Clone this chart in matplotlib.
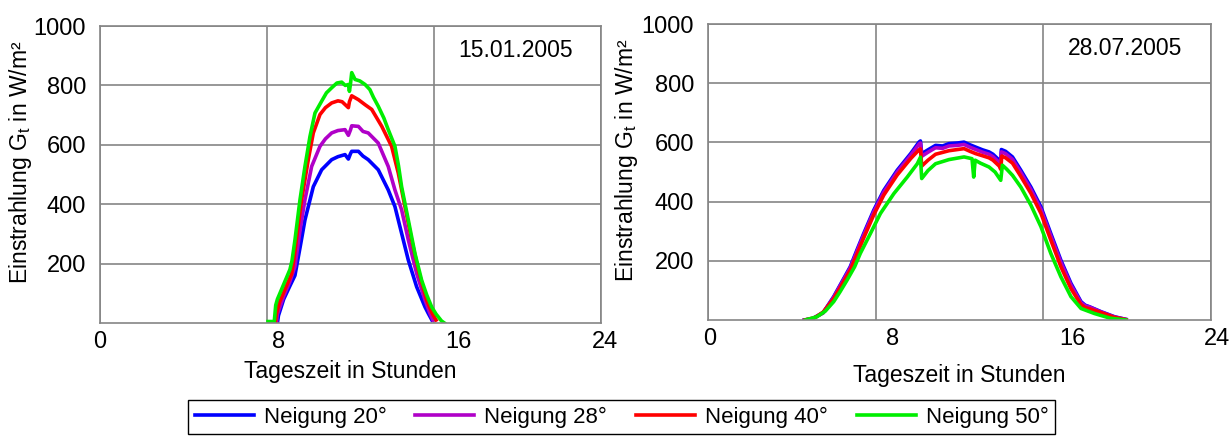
import numpy as np
import matplotlib
matplotlib.use("Agg")
import matplotlib.pyplot as plt
from matplotlib.transforms import ScaledTranslation

plt.rcParams['font.family'] = ['Liberation Sans', 'DejaVu Sans']
plt.rcParams['mathtext.default'] = 'regular'

# series names and colours
labels = ['Neigung 20°', 'Neigung 28°', 'Neigung 40°', 'Neigung 50°']
colors = ['#0000ff', '#b000c8', '#ff0000', '#00ee00']

# 15.01.2005  (hour of day, irradiance W/m2)
jan_t20 = [8.5, 8.55, 8.8, 9.1, 9.34, 9.6, 9.82, 10.22, 10.62, 11.1, 11.4, 11.74, 11.9, 12.0, 12.06,
           12.38, 12.6, 12.85, 13.33, 13.81, 14.13, 14.45, 14.77, 15.17, 15.57, 15.73, 15.9]
jan_g20 = [0, 25, 80, 125, 160, 260, 347, 459, 516, 550, 560, 567, 552, 570, 578,
           578, 562, 550, 516, 448, 392, 302, 212, 122, 54, 32, 10]

jan_t28 = [8.45, 8.5, 8.8, 9.1, 9.34, 9.6, 9.82, 10.14, 10.54, 10.8, 11.1, 11.4, 11.74, 11.9, 12.0,
           12.06, 12.38, 12.6, 12.85, 13.33, 13.81, 14.13, 14.45, 14.77, 15.17, 15.57, 15.81, 15.95]
jan_g28 = [0, 30, 90, 140, 190, 320, 415, 527, 595, 620, 640, 648, 651, 632, 650,
           664, 662, 645, 640, 606, 527, 448, 381, 280, 167, 77, 32, 10]

jan_t40 = [8.4, 8.45, 8.6, 8.9, 9.18, 9.3, 9.5, 9.66, 9.98, 10.22, 10.54, 10.8, 11.1, 11.4, 11.6,
           11.9, 11.95, 12.06, 12.38, 12.7, 13.02, 13.5, 13.97, 14.29, 14.61, 14.93, 15.25, 15.65,
           15.9, 16.1]
jan_g40 = [0, 30, 70, 120, 165, 220, 330, 415, 550, 640, 702, 725, 741, 748, 745,
           725, 745, 765, 752, 735, 719, 662, 595, 505, 392, 280, 178, 77,
           35, 10]

jan_t50 = [8.05, 8.35, 8.42, 8.5, 8.8, 9.1, 9.2, 9.34, 9.58, 9.82, 10.06, 10.3, 10.62, 10.85, 11.1,
           11.35, 11.58, 11.75, 11.9, 11.95, 12.0, 12.06, 12.22, 12.45, 12.7, 12.93, 13.1, 13.33,
           13.6, 13.81, 14.13, 14.3, 14.45, 14.77, 15.09, 15.41, 15.65, 15.89, 16.1, 16.36, 16.5]
jan_g50 = [5, 5, 60, 80, 130, 180, 210, 279, 414, 527, 628, 707, 747, 775, 792,
           808, 811, 800, 803, 780, 805, 843, 820, 815, 803, 786, 760, 730,
           690, 651, 595, 530, 459, 347, 234, 144, 95, 54, 30, 7, 0]

# 28.07.2005
jul_t20 = [4.6, 5.0, 5.5, 6.0, 6.4, 6.79, 7.1, 7.43, 7.91, 8.39, 9.03, 9.67, 10.07, 10.14, 10.2,
           10.5, 10.86, 11.2, 11.5, 11.9, 12.22, 12.5, 12.78, 13.1, 13.41, 13.6, 13.9, 13.97, 14.0,
           14.2, 14.53, 14.93, 15.41, 15.89, 16.36, 16.84, 17.32, 17.8, 18.0, 18.2, 18.76, 19.4, 19.95]
jul_g20 = [0, 5, 25, 79, 130, 180, 235, 292, 371, 438, 506, 562, 601, 605, 562,
           575, 590, 588, 596, 598, 601, 592, 584, 575, 568, 560, 540, 534, 576,
           570, 551, 506, 449, 382, 292, 202, 124, 62, 50, 45, 28, 11, 2]

jul_t28 = [4.6, 5.0, 5.5, 6.0, 6.4, 6.79, 7.1, 7.43, 7.91, 8.39, 9.03, 9.67, 10.07, 10.14, 10.2,
           10.5, 10.86, 11.2, 11.5, 11.9, 12.22, 12.5, 12.78, 13.1, 13.41, 13.6, 13.9, 13.97, 14.0,
           14.2, 14.53, 14.93, 15.41, 15.89, 16.36, 16.84, 17.32, 17.8, 18.0, 18.2, 18.76, 19.4, 19.95]
jul_g28 = [0, 5, 24, 77, 127, 176, 230, 287, 365, 432, 500, 556, 594, 598, 553,
           567, 582, 580, 588, 590, 593, 584, 576, 567, 560, 552, 532, 522, 568,
           562, 543, 498, 441, 374, 284, 195, 118, 58, 48, 44, 27, 10, 2]

jul_t40 = [4.62, 5.1, 5.5, 6.0, 6.4, 6.79, 7.1, 7.43, 7.91, 8.39, 9.03, 9.67, 10.07, 10.14, 10.2,
           10.5, 10.86, 11.5, 12.22, 12.5, 12.78, 13.1, 13.41, 13.6, 13.9, 13.97, 14.02, 14.2, 14.53,
           14.93, 15.41, 15.89, 16.36, 16.84, 17.32, 17.8, 18.0, 18.2, 18.76, 19.4, 19.95]
jul_g40 = [0, 8, 27, 72, 120, 168, 220, 277, 355, 422, 490, 545, 575, 578, 520,
           540, 560, 572, 579, 570, 562, 555, 548, 540, 520, 509, 554, 548, 530,
           485, 428, 360, 270, 180, 106, 52, 42, 38, 25, 9, 1]

jul_t50 = [4.64, 5.2, 5.6, 6.0, 6.3, 6.64, 7.0, 7.27, 7.75, 8.23, 8.87, 9.51, 9.99, 10.14, 10.2,
           10.5, 10.86, 11.5, 12.22, 12.6, 12.68, 12.75, 13.0, 13.41, 13.7, 13.97, 14.05, 14.25,
           14.53, 14.93, 15.41, 15.89, 16.36, 16.84, 17.32, 17.8, 18.44, 19.2, 19.95]
jul_g50 = [0, 11, 30, 62, 95, 135, 180, 225, 292, 360, 427, 483, 528, 550, 478,
           505, 528, 542, 551, 545, 483, 540, 530, 517, 500, 472, 523, 510,
           489, 449, 388, 315, 225, 146, 79, 39, 22, 6, 0]

dates = ['15.01.2005', '28.07.2005']
x_ticks = [0, 8, 16, 24]
y_ticks = [200, 400, 600, 800, 1000]

fig = plt.figure(figsize=(12.31, 4.4), dpi=100)
ax1 = fig.add_axes([0.0812, 0.2659, 0.4070, 0.675])
ax2 = fig.add_axes([0.5751, 0.2727, 0.4086, 0.6727])

jan = [(jan_t20, jan_g20), (jan_t28, jan_g28), (jan_t40, jan_g40), (jan_t50, jan_g50)]
jul = [(jul_t20, jul_g20), (jul_t28, jul_g28), (jul_t40, jul_g40), (jul_t50, jul_g50)]

# label shifts in pixels (the x tick numbers sit a bit right of the grid lines)
shifts = [[0, 12, 24, 4], [2, 17, 29, 6]]
xlabel_pads = [5, 10]
ylabel_x = [-0.132, -0.135]

for ax, data, date, sh, lp, yx in zip([ax1, ax2], [jan, jul], dates, shifts, xlabel_pads, ylabel_x):
    for (t, g), c, lab in zip(data, colors, labels):
        ax.plot(t, g, color=c, lw=2.6, label=lab)

    ax.set_xlim(0, 24)
    ax.set_ylim(0, 1000)
    ax.set_xticks(x_ticks)
    ax.set_yticks(y_ticks)
    ax.set_xticks([8, 16], minor=True)
    ax.grid(True, which='major', color='#858585', lw=1.2)
    ax.tick_params(axis='both', which='major', length=0, labelsize=17)
    ax.tick_params(axis='x', which='major', pad=6)
    ax.tick_params(axis='y', which='major', pad=10)
    ax.tick_params(axis='x', which='minor', direction='in', length=6, width=2.5, color='black')
    for s in ax.spines.values():
        s.set_color('#858585')
        s.set_linewidth(1.2)

    # move the x tick labels a little to the right
    for lbl, dx in zip(ax.get_xticklabels(), sh):
        lbl.set_transform(lbl.get_transform() + ScaledTranslation(dx / 100, 0, fig.dpi_scale_trans))

    ax.set_xlabel('Tageszeit in Stunden', fontsize=16.5, labelpad=lp)
    ax.set_ylabel('Einstrahlung G$_t$ in W/m²', fontsize=16.5)
    ax.yaxis.set_label_coords(yx, 0.54)
    ax.text(0.83, 0.918, date, transform=ax.transAxes, fontsize=16.5, ha='center', va='center')

handles, labs = ax1.get_legend_handles_labels()
fig.legend(handles, labs, loc='center', bbox_to_anchor=(0.505, 0.052), ncol=4,
           fontsize=16, frameon=True, fancybox=False, edgecolor='black', framealpha=1,
           handlelength=2.65, handletextpad=0.45, columnspacing=1.3, borderpad=0.3)

fig.savefig('out.png', dpi=100)
